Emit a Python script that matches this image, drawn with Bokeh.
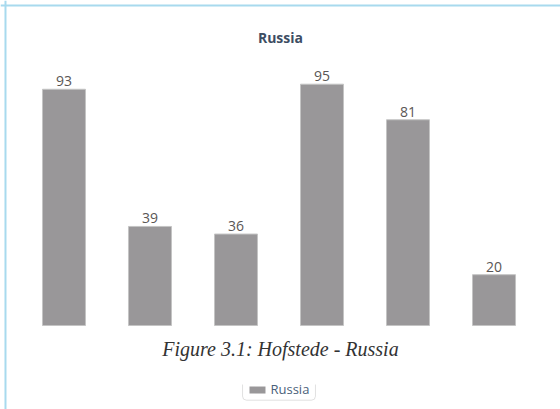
from bokeh.plotting import figure
from bokeh.models import Range1d, Label, Span, BoxAnnotation, ColumnDataSource
from bokeh.core.properties import value
from bokeh.embed import file_html
from bokeh.resources import INLINE

# Data
dimensions = ["Power Distance", "Individualism", "Masculinity",
              "Uncertainty Avoidance", "Long Term Orientation", "Indulgence"]
values = [93, 39, 36, 95, 81, 20]
series_name = "Russia"
title_text = "Russia"
caption_text = "Figure 3.1: Hofstede - Russia"

bar_color = "#999799"

idx = list(range(len(values)))
src = ColumnDataSource(dict(x=idx, top=values, label=[str(v) for v in values], name=dimensions))

p = figure(width=560, height=409, output_backend="svg", toolbar_location=None,
           x_range=Range1d(-0.738, 5.773), y_range=Range1d(-33.07, 127.95),
           min_border=0, min_border_left=0, min_border_right=0,
           min_border_top=0, min_border_bottom=0)
p.xaxis.visible = False
p.yaxis.visible = False
p.grid.visible = False
p.outline_line_color = None
p.background_fill_color = "white"
p.border_fill_color = "white"

bars = p.vbar(x="x", top="top", bottom=0, width=0.5, source=src,
              fill_color=bar_color, line_color="#c4c4c4", line_width=1)

p.text(x="x", y="top", text="label", source=src, text_align="center",
       text_baseline="bottom", y_offset=-3, text_font_size="14px",
       text_color="#5a5655", text_font=value("Open Sans"))

p.add_layout(Label(x=2.517, y=113.4, text=title_text, text_align="center",
                   text_baseline="middle", text_font_size="14px", text_font_style="bold",
                   text_color="#3d4d63", text_font="Open Sans"))

# legend (partly hidden under the caption, as in the source image)
p.rect(x=[2.250], y=[-25.4], width=16, height=7, width_units="screen", height_units="screen",
       fill_color=bar_color, line_color=None)
p.text(x=[2.401], y=[-25.0], text=[series_name], text_align="left", text_baseline="alphabetic",
       text_font_size="13px", text_color="#4a5f7a", text_font=value("Open Sans"))
p.add_layout(BoxAnnotation(left=2.076, right=2.924, top=-17.7, bottom=-29.4,
                           fill_alpha=0.0, line_color="#9a9a9a", line_width=1,
                           border_radius=4))

# white cover (caption area) hiding the top of the legend
p.add_layout(BoxAnnotation(left=1.95, right=3.05, top=-13.8, bottom=-23.2,
                           fill_color="white", fill_alpha=1.0, line_color=None,
                           level="overlay"))

p.add_layout(Label(x=2.517, y=-9.06, text=caption_text, text_align="center",
                   text_baseline="middle", text_font_size="20px", text_font_style="italic",
                   text_color="#333333", text_font="Liberation Serif"))

# decorative light-blue frame (left and top)
p.add_layout(Span(location=-0.68, dimension="height", line_color="#a8daee", line_width=2))
p.add_layout(Span(location=126.0, dimension="width", line_color="#a8daee", line_width=2))

open("out.html", "w").write(file_html(p, INLINE))
